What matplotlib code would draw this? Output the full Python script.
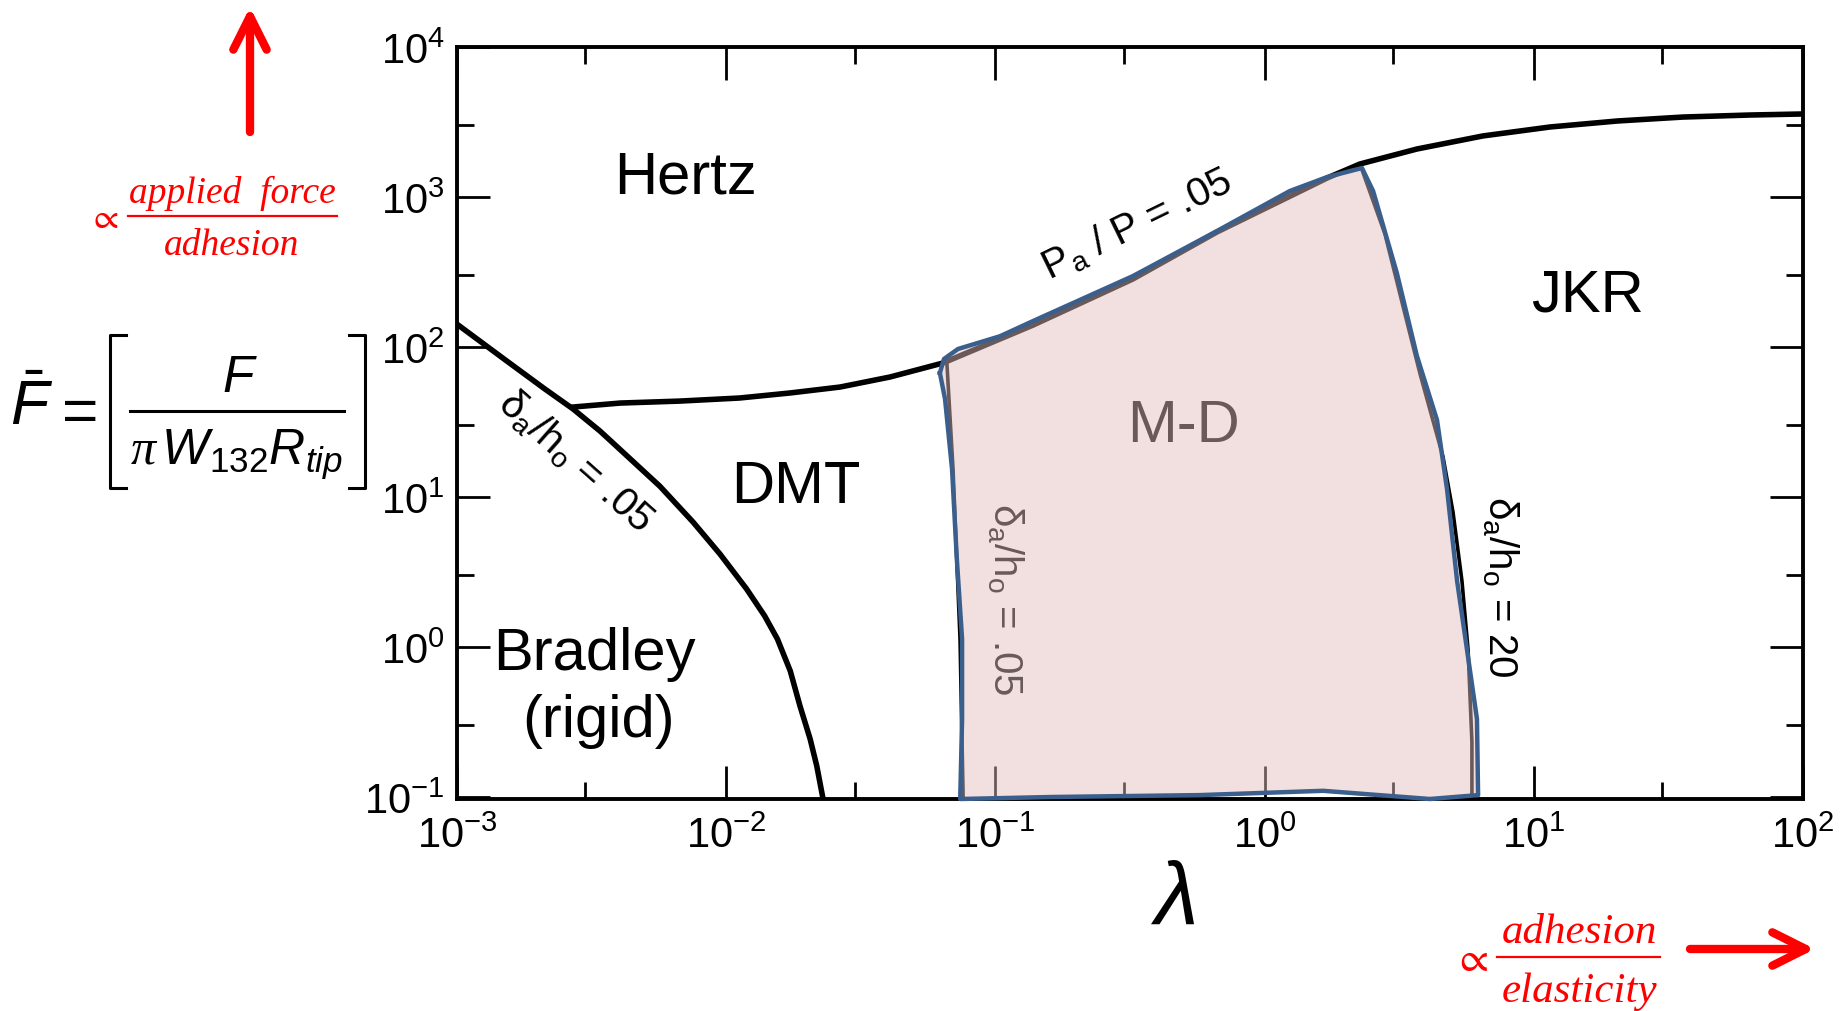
import matplotlib
matplotlib.use('Agg')
import matplotlib.pyplot as plt
from matplotlib.lines import Line2D
from matplotlib.patches import FancyArrowPatch
from matplotlib.ticker import NullFormatter

plt.rcParams['font.family'] = ['Liberation Sans', 'DejaVu Sans']
plt.rcParams['mathtext.fontset'] = 'custom'
plt.rcParams['mathtext.rm'] = 'Liberation Sans'
plt.rcParams['mathtext.it'] = 'Liberation Sans:italic'
plt.rcParams['mathtext.sf'] = 'Liberation Serif:italic'

# Bradley / DMT boundary (delta/h0 = .05)
bradley_lam = [1.00e-3, 1.53e-3, 2.12e-3, 2.70e-3, 3.40e-3, 4.28e-3, 5.67e-3, 7.53e-3, 9.48e-3,
               1.19e-2, 1.39e-2, 1.55e-2, 1.73e-2, 1.88e-2, 2.05e-2, 2.17e-2, 2.29e-2]
bradley_F = [142, 80.7, 52.5, 38.6, 27.5, 18.8, 11.8, 6.81, 4.17,
             2.44, 1.61, 1.13, 0.692, 0.404, 0.244, 0.161, 0.097]

# Hertz boundary (Pa/P = .05)
upper_lam = [2.70e-3, 4.04e-3, 6.73e-3, 1.12e-2, 1.73e-2, 2.65e-2, 4.06e-2, 6.38e-2,
             0.138, 0.324, 0.665, 1.71, 2.26, 3.68, 6.47, 11.5, 20.4, 35.8, 63.5, 100]
upper_F = [39.8, 42.3, 43.6, 45.7, 49.4, 54.1, 63.1, 78.2,
           140, 284, 584, 1340, 1660, 2089, 2553, 2930, 3211, 3412, 3520, 3577]

# DMT / M-D boundary (delta_a/h0 = .05)
md_left_lam = [6.61e-2, 6.96e-2, 7.39e-2, 7.59e-2]
md_left_F = [75.9, 15.4, 1.13, 0.097]

# M-D / JKR boundary (delta_a/h0 = 20)
md_right_lam = [2.26, 2.80, 3.33, 3.78, 4.60, 5.01, 5.41, 5.70, 5.89, 5.89]
md_right_F = [1660, 566, 163, 66.1, 18.5, 7.94, 2.75, 0.955, 0.233, 0.097]

# hand-drawn outline of the M-D zone
zone_lam = [6.22e-2, 6.44e-2, 7.26e-2, 0.104, 0.138, 0.324, 0.665, 1.24, 1.71, 2.30,
            2.53, 3.10, 3.68, 4.37, 4.76, 5.19, 5.65, 6.15, 6.21, 4.11, 1.65, 0.575,
            0.160, 7.40e-2, 7.52e-2, 7.52e-2, 7.19e-2, 6.90e-2, 6.50e-2]
zone_F = [67.1, 83.2, 97.0, 118, 149, 297, 593, 1096, 1360, 1560,
          1096, 311, 87.1, 32.6, 11.3, 2.75, 0.955, 0.331, 0.103, 0.097, 0.110, 0.103,
          0.100, 0.097, 0.331, 1.13, 3.86, 15.4, 45.0]

x_major = [1e-3, 1e-2, 1e-1, 1e0, 1e1, 1e2]
x_minor = [3e-3, 3e-2, 3e-1, 3e0, 3e1]
x_labels = [r'$\mathdefault{10^{-3}}$', r'$\mathdefault{10^{-2}}$', r'$\mathdefault{10^{-1}}$',
            r'$\mathdefault{10^{0}}$', r'$\mathdefault{10^{1}}$', r'$\mathdefault{10^{2}}$']
y_major = [1e-1, 1e0, 1e1, 1e2, 1e3, 1e4]
y_minor = [3e-1, 3e0, 3e1, 3e2, 3e3]
y_labels = [r'$\mathdefault{10^{-1}}$', r'$\mathdefault{10^{0}}$', r'$\mathdefault{10^{1}}$',
            r'$\mathdefault{10^{2}}$', r'$\mathdefault{10^{3}}$', r'$\mathdefault{10^{4}}$']

W, H = 1844, 1012


def fpos(x, y):
    # pixel position -> figure fraction
    return x / W, 1 - y / H


fig = plt.figure(figsize=(W / 100, H / 100), dpi=100)
ax = fig.add_axes([457 / W, 1 - 800 / H, 1346 / W, 752 / H])
ax.set_xscale('log')
ax.set_yscale('log')
ax.set_xlim(1e-3, 1e2)
ax.set_ylim(0.097, 1e4)

ax.plot(bradley_lam, bradley_F, color='black', lw=4.0, zorder=2)
ax.plot(upper_lam, upper_F, color='black', lw=4.0, zorder=2)
ax.plot(md_left_lam, md_left_F, color='black', lw=2.6, zorder=2)
ax.plot(md_right_lam, md_right_F, color='black', lw=2.6, zorder=2)

# translucent zone tints whatever lies under it
ax.fill(zone_lam, zone_F, color='#e4bfbf', alpha=0.47, lw=0, zorder=3)
ax.plot(zone_lam + zone_lam[:1], zone_F + zone_F[:1], color='#3b5f8c', lw=3.2,
        zorder=4, clip_on=False, solid_joinstyle='round')

ax.set_xticks(x_major, labels=x_labels)
ax.set_xticks(x_minor, minor=True)
ax.set_yticks(y_major, labels=y_labels)
ax.set_yticks(y_minor, minor=True)
ax.xaxis.set_minor_formatter(NullFormatter())
ax.yaxis.set_minor_formatter(NullFormatter())
ax.tick_params(which='both', direction='in', top=True, right=True, width=2)
ax.tick_params(which='major', length=24, labelsize=30)
ax.tick_params(which='minor', length=12)
ax.tick_params(axis='x', pad=12)
ax.tick_params(axis='y', pad=9)
for sp in ax.spines.values():
    sp.set_linewidth(2.8)

# regime names
reg = dict(transform=ax.transAxes, fontsize=43, ha='center', va='baseline', zorder=2)
ax.text(0.170, 0.806, 'Hertz', **reg)
ax.text(0.252, 0.395, 'DMT', **reg)
ax.text(0.8395, 0.650, 'JKR', **reg)
ax.text(0.540, 0.476, 'M-D', **reg)
ax.text(0.102, 0.173, 'Bradley', **reg)
ax.text(0.105, 0.084, '(rigid)', **reg)

lab = dict(transform=ax.transAxes, fontsize=29, ha='center', va='center',
           rotation_mode='anchor', zorder=2)
ax.text(0.088, 0.450, r'$\mathrm{\delta_a/h_o}$ = .05', rotation=-41.5, **lab)
ax.text(0.505, 0.765, r'$\mathrm{P_a}$ / P = .05', rotation=26, **lab)
ax.text(0.407, 0.267, r'$\mathrm{\delta_a/h_o}$ = .05', rotation=-90, **lab)
ax.text(0.775, 0.283, r'$\mathrm{\delta_a/h_o}$ = 20', rotation=-90, **lab)

# x-axis symbol
fig.text(*fpos(1173, 925), r'$\lambda$', fontsize=64, ha='center', va='baseline',
         family=['Liberation Serif', 'DejaVu Serif'], style='italic')

# normalised force definition
fig.text(*fpos(32, 425), r'$\bar{F}$', fontsize=45, ha='center', va='baseline')
fig.text(*fpos(80, 432), '=', fontsize=45, ha='center', va='baseline')
fig.text(*fpos(240, 392), r'$F$', fontsize=37, ha='center', va='baseline')
fig.text(*fpos(236, 465), r'$\mathsf{\pi}\,W_{132}R_{tip}$', fontsize=36,
         ha='center', va='baseline')
black = dict(transform=fig.transFigure, color='black', lw=2.2)
fig.add_artist(Line2D([130 / W, 344 / W], [1 - 412 / H] * 2, **black))
fig.add_artist(Line2D([126 / W, 110 / W, 110 / W, 126 / W],
                      [1 - 336 / H, 1 - 336 / H, 1 - 489 / H, 1 - 489 / H], **black))
fig.add_artist(Line2D([349 / W, 365 / W, 365 / W, 349 / W],
                      [1 - 336 / H, 1 - 336 / H, 1 - 489 / H, 1 - 489 / H], **black))

# red annotations
serif = dict(family=['Liberation Serif', 'DejaVu Serif'], style='italic', color='red',
             ha='center', va='baseline')
red = dict(transform=fig.transFigure, color='red', lw=1.6)
prop = dict(color='red', ha='center', va='center', math_fontfamily='stix')
fig.text(*fpos(232, 203), 'applied  force', fontsize=27, **serif)
fig.add_artist(Line2D([128 / W, 337 / W], [1 - 217 / H] * 2, **red))
fig.text(*fpos(232, 255), 'adhesion', fontsize=27, **serif)
fig.text(*fpos(103, 219), r'$\propto$', fontsize=26, **prop)

fig.text(*fpos(1579, 943), 'adhesion', fontsize=31, **serif)
fig.add_artist(Line2D([1497 / W, 1660 / W], [1 - 958 / H] * 2, **red))
fig.text(*fpos(1579, 1002), 'elasticity', fontsize=31, **serif)
fig.text(*fpos(1470, 960), r'$\propto$', fontsize=30, **prop)

arrow = dict(arrowstyle='->,head_length=1.2,head_width=0.6', mutation_scale=20,
             lw=6, color='red', shrinkA=0, shrinkB=0, transform=fig.transFigure,
             capstyle='round', joinstyle='round')
fig.add_artist(FancyArrowPatch(fpos(250, 133), fpos(250, 8), **arrow))
fig.add_artist(FancyArrowPatch(fpos(1690, 950), fpos(1815, 950), **arrow))

fig.savefig('out.png', dpi=100, facecolor='white')
